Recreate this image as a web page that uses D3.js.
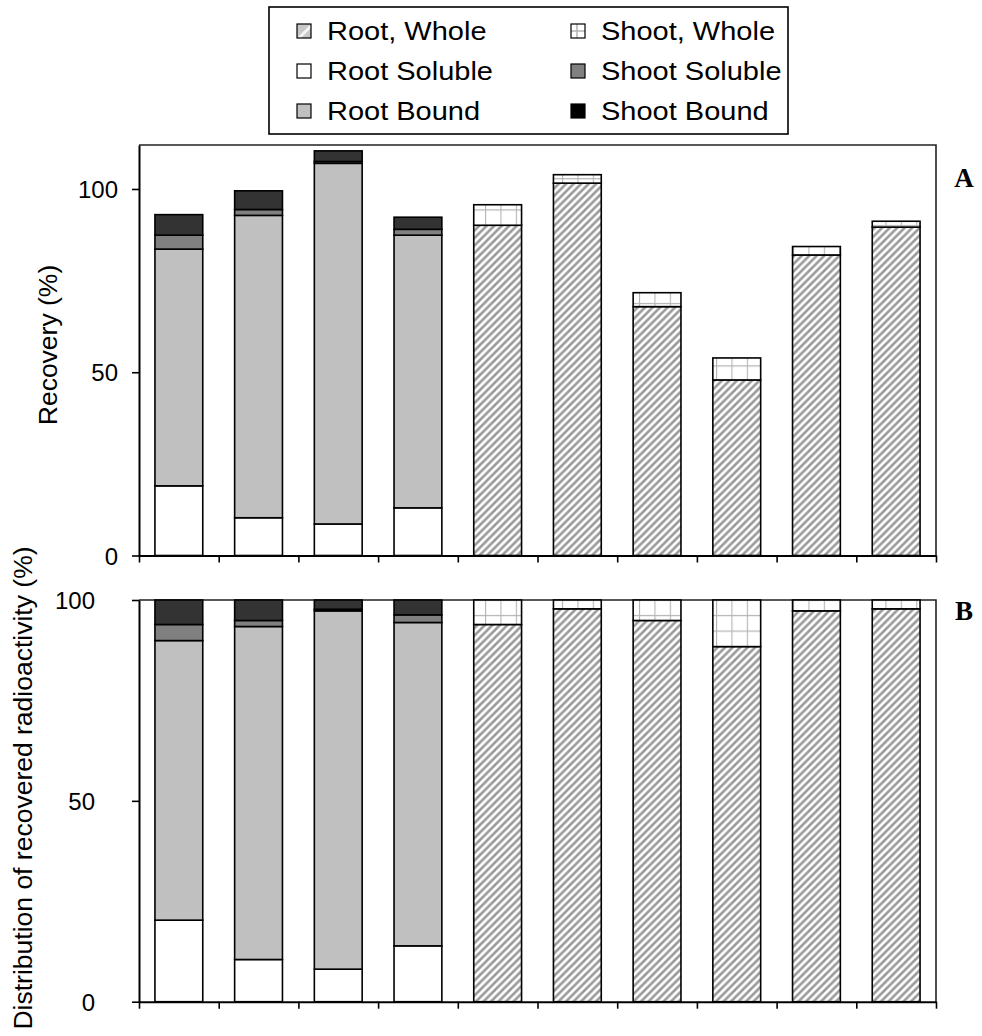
<!DOCTYPE html>
<html>
<head>
<meta charset="utf-8">
<script src="https://cdn.jsdelivr.net/npm/d3@7"></script>
<style>
  html, body { margin: 0; padding: 0; background: #fff; }
  svg { display: block; }
  text { font-family: "Liberation Sans", Arial, sans-serif; fill: #000; }
</style>
</head>
<body>
<svg id="chart" width="982" height="1036"></svg>
<script>
// Ten treatments, left to right
const treatments = ["T1", "T2", "T3", "T4", "T5", "T6", "T7", "T8", "T9", "T10"];

// Panel A: recovery (% of applied radioactivity)
const rootWholeA    = [0, 0, 0, 0, 90.1, 101.6, 67.9, 47.9, 82.0, 89.6];
const rootSolubleA  = [19.0, 10.3, 8.6, 13.0, 0, 0, 0, 0, 0, 0];
const rootBoundA    = [64.6, 82.5, 98.4, 74.4, 0, 0, 0, 0, 0, 0];
const shootSolubleA = [3.8, 1.6, 0.5, 1.6, 0, 0, 0, 0, 0, 0];
const shootBoundA   = [5.6, 5.1, 2.9, 3.3, 0, 0, 0, 0, 0, 0];
const shootWholeA   = [0, 0, 0, 0, 5.6, 2.3, 3.8, 6.0, 2.3, 1.6];

// Panel B: distribution of the recovered radioactivity (%)
const rootWholeB    = [0, 0, 0, 0, 93.9, 97.8, 94.9, 88.4, 97.3, 97.8];
const rootSolubleB  = [20.3, 10.5, 8.1, 13.9, 0, 0, 0, 0, 0, 0];
const rootBoundB    = [69.6, 82.9, 89.2, 80.5, 0, 0, 0, 0, 0, 0];
const shootSolubleB = [4.0, 1.5, 0.4, 1.9, 0, 0, 0, 0, 0, 0];
const shootBoundB   = [6.1, 5.1, 2.3, 3.7, 0, 0, 0, 0, 0, 0];
const shootWholeB   = [0, 0, 0, 0, 6.1, 2.2, 5.1, 11.6, 2.7, 2.2];

const yTicks = [0, 50, 100];

// Stack order bottom to top
const seriesKeys = ["rootWhole", "rootSoluble", "rootBound", "shootSoluble", "shootBound", "shootWhole"];
const seriesLabels = {
  rootWhole: "Root, Whole", shootWhole: "Shoot, Whole",
  rootSoluble: "Root Soluble", shootSoluble: "Shoot Soluble",
  rootBound: "Root Bound", shootBound: "Shoot Bound"
};
const fills = {
  rootWhole: "url(#diag)", rootSoluble: "#ffffff", rootBound: "#c0c0c0",
  shootSoluble: "#808080", shootBound: "#333333", shootWhole: "url(#grid)"
};

function buildRows(rw, rs, rb, ss, sb, sw) {
  return treatments.map((t, i) => ({
    t, rootWhole: rw[i], rootSoluble: rs[i], rootBound: rb[i],
    shootSoluble: ss[i], shootBound: sb[i], shootWhole: sw[i]
  }));
}
const dataA = buildRows(rootWholeA, rootSolubleA, rootBoundA, shootSolubleA, shootBoundA, shootWholeA);
const dataB = buildRows(rootWholeB, rootSolubleB, rootBoundB, shootSolubleB, shootBoundB, shootWholeB);

const svg = d3.select("#chart");
const defs = svg.append("defs");

// upward diagonal hatch
const hs = 7.5;
const diag = defs.append("pattern").attr("id", "diag")
  .attr("patternUnits", "userSpaceOnUse").attr("width", hs).attr("height", hs);
diag.append("rect").attr("width", hs).attr("height", hs).attr("fill", "#fff");
diag.append("path")
  .attr("d", `M${-hs / 4},${hs / 4} L${hs / 4},${-hs / 4} M0,${hs} L${hs},0 M${hs * 0.75},${hs * 1.25} L${hs * 1.25},${hs * 0.75}`)
  .attr("stroke", "#999").attr("stroke-width", 2.6);

// square grid
const grid = defs.append("pattern").attr("id", "grid")
  .attr("patternUnits", "userSpaceOnUse").attr("width", 15.4).attr("height", 15.6)
  .attr("x", 7.6).attr("y", 6.5);
grid.append("rect").attr("width", 15.4).attr("height", 15.6).attr("fill", "#fff");
grid.append("path").attr("d", "M0,0 V15.6 M0,0 H15.4")
  .attr("stroke", "#b4b4b4").attr("stroke-width", 2.2);

const x = d3.scaleBand().domain(treatments).range([139, 936]).paddingInner(0.4).paddingOuter(0.2);
const xEdges = d3.scaleLinear().domain([0, treatments.length]).range([139, 936]);
const stack = d3.stack().keys(seriesKeys);

function drawPanel(data, yMax, top, bottom, labelRight, letter, letterY, title, titleX, titleY) {
  const y = d3.scaleLinear().domain([0, yMax]).range([bottom, top]);
  const g = svg.append("g");

  // frame top and right
  g.append("path")
    .attr("d", `M139,${top} H936 V${bottom}`)
    .attr("fill", "none").attr("stroke", "#222").attr("stroke-width", 1.6);

  const layers = stack(data);
  layers.forEach(layer => {
    g.append("g").selectAll("rect")
      .data(layer.filter(s => s[1] - s[0] > 0))
      .join("rect")
      .attr("x", s => x(s.data.t))
      .attr("width", x.bandwidth())
      .attr("y", s => y(s[1]))
      .attr("height", s => y(s[0]) - y(s[1]))
      .attr("fill", fills[layer.key])
      .attr("stroke", "#000")
      .attr("stroke-width", 1.6);
  });

  // y axis
  const ya = g.append("g").attr("transform", "translate(139,0)")
    .call(d3.axisLeft(y).tickValues(yTicks).tickSize(7).tickSizeOuter(0).tickFormat(d3.format("d")));
  ya.select(".domain").attr("stroke-width", 2);
  ya.selectAll(".tick line").attr("stroke-width", 1.6);
  ya.selectAll(".tick text")
    .attr("x", labelRight - 139).attr("dy", "0.36em")
    .style("font-family", "'Liberation Sans', Arial, sans-serif").style("font-size", "24px");

  // x axis: ticks at the category boundaries
  const xa = g.append("g").attr("transform", `translate(0,${bottom})`)
    .call(d3.axisBottom(xEdges).tickValues(d3.range(treatments.length + 1)).tickSize(7).tickSizeOuter(0).tickFormat(""));
  xa.select(".domain").attr("stroke-width", 2);
  xa.selectAll(".tick line").attr("stroke-width", 1.6);

  // panel letter
  g.append("text").attr("x", 964).attr("y", letterY).attr("text-anchor", "middle")
    .style("font-family", "'Liberation Serif', 'Times New Roman', serif")
    .style("font-weight", "bold").style("font-size", "27px").text(letter);

  // axis title
  g.append("text")
    .attr("transform", `translate(${titleX},${titleY}) rotate(-90)`)
    .attr("text-anchor", "middle").attr("dy", "0.36em")
    .style("font-size", "26.5px").text(title);
}

drawPanel(dataA, 112, 145, 555.5, 118, "A", 187, "Recovery (%)", 47, 345);
drawPanel(dataB, 100, 600, 1001.7, 95, "B", 620, "Distribution of recovered radioactivity (%)", 22, 788);

// legend
const legend = svg.append("g");
legend.append("rect").attr("x", 269).attr("y", 7).attr("width", 519).attr("height", 127)
  .attr("fill", "#fff").attr("stroke", "#000").attr("stroke-width", 1.6);

const legendRows = [
  ["rootWhole", "shootWhole"],
  ["rootSoluble", "shootSoluble"],
  ["rootBound", "shootBound"]
];
const legendSwatchFill = Object.assign({}, fills, { shootBound: "#000000" });
const colX = [297, 571];
legendRows.forEach((row, r) => {
  const cy = 31 + r * 40;
  row.forEach((key, c) => {
    const sx = colX[c];
    const sw = legend.append("g");
    if (key === "rootWhole") {
      sw.append("rect").attr("x", sx).attr("y", cy - 7).attr("width", 14).attr("height", 14).attr("fill", "#c8c8c8");
      sw.append("path").attr("d", `M${sx + 2},${cy + 7} L${sx + 14},${cy - 5}`).attr("stroke", "#f4f4f4").attr("stroke-width", 3);
    } else if (key === "shootWhole") {
      sw.append("rect").attr("x", sx).attr("y", cy - 7).attr("width", 14).attr("height", 14).attr("fill", "#fff");
      sw.append("path").attr("d", `M${sx},${cy} H${sx + 14} M${sx + 6},${cy - 7} V${cy + 7}`).attr("stroke", "#b4b4b4").attr("stroke-width", 1.5);
    } else {
      sw.append("rect").attr("x", sx).attr("y", cy - 7).attr("width", 14).attr("height", 14).attr("fill", legendSwatchFill[key]);
    }
    sw.append("rect").attr("x", sx).attr("y", cy - 7).attr("width", 14).attr("height", 14)
      .attr("fill", "none").attr("stroke", "#000").attr("stroke-width", 1.2);
    legend.append("text")
      .attr("transform", `translate(${sx + 30},${cy}) scale(1.16,1)`)
      .attr("dy", "0.36em")
      .style("font-size", "25px").text(seriesLabels[key]);
  });
});
</script>
</body>
</html>
